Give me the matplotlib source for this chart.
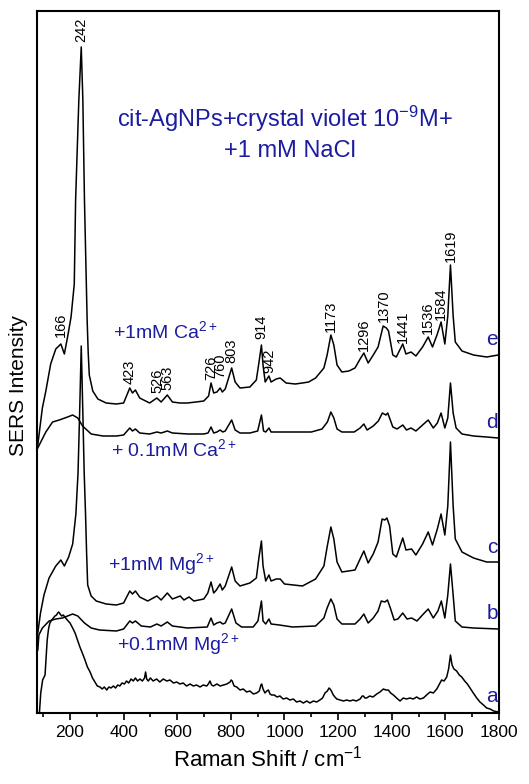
import matplotlib
matplotlib.use("Agg")
import matplotlib.pyplot as plt
from matplotlib.ticker import MultipleLocator, NullLocator

plt.rcParams['font.family'] = ['Liberation Sans', 'DejaVu Sans']
plt.rcParams['mathtext.fontset'] = 'custom'
plt.rcParams['mathtext.rm'] = 'Liberation Sans'
plt.rcParams['mathtext.it'] = 'Liberation Sans:italic'

# spectra (Raman shift in cm-1, stacked intensity in arb. units)
wn_e = [80, 90, 97, 110, 128, 147, 166, 179, 191, 204, 216, 221, 233, 242, 248, 254, 264, 268, 272,
        285, 304, 335, 373, 400, 423, 433, 444, 460, 497, 524, 540, 563, 582, 610, 638, 670, 699,
        717, 726, 736, 748, 760, 768, 779, 787, 803, 816, 834, 871, 895, 905, 914, 920, 928, 942,
        950, 969, 984, 1006, 1040, 1067, 1090, 1116, 1147, 1159, 1173, 1184, 1196, 1214, 1240,
        1263, 1282, 1296, 1312, 1331, 1349, 1368, 1380, 1388, 1404, 1417, 1441, 1453, 1472, 1490,
        1515, 1536, 1552, 1570, 1584, 1598, 1609, 1619, 1629, 1637, 1662, 1705, 1754, 1797]
int_e = [268, 290, 305, 322, 349, 364, 369, 359, 376, 396, 429, 513, 613, 666, 613, 513, 393, 360, 338,
         322, 314, 310, 309, 310, 325, 320, 323, 315, 310, 315, 311, 318, 311, 310, 310, 311, 312,
         317, 330, 320, 321, 325, 321, 324, 331, 345, 331, 325, 326, 333, 351, 368, 348, 331, 337,
         331, 334, 335, 330, 329, 330, 331, 335, 345, 358, 378, 368, 348, 341, 342,
         345, 354, 360, 350, 358, 366, 387, 385, 382, 358, 356, 369, 359, 361, 357,
         366, 376, 366, 379, 391, 369, 397, 448, 397, 371, 362, 358, 356, 358]

wn_d = [80, 91, 110, 135, 160, 191, 210, 229, 247, 279, 323, 373, 400, 423, 433, 444, 460, 497, 524,
        540, 563, 582, 640, 699, 715, 726, 736, 748, 760, 770, 779, 803, 816, 834, 871, 900, 914,
        922, 930, 942, 950, 984, 1030, 1100, 1140, 1160, 1173, 1184, 1196, 1214, 1260, 1282, 1296,
        1308, 1331, 1350, 1365, 1378, 1385, 1396, 1404, 1420, 1441, 1455, 1472, 1490, 1515, 1536,
        1555, 1570, 1584, 1598, 1609, 1619, 1629, 1640, 1662, 1705, 1754, 1797]
int_d = [265, 271, 281, 291, 293, 296, 298, 295, 287, 279, 277, 277, 278, 285, 282, 284, 280, 279, 281,
         280, 282, 280, 279, 279, 280, 286, 280, 281, 283, 281, 282, 293, 283, 280, 280, 282, 298,
         282, 281, 285, 281, 281, 281, 281, 284, 291, 301, 295, 284, 281, 281, 285, 289,
         283, 287, 292, 300, 298, 300, 292, 286, 284, 288, 283, 285, 282, 288, 293,
         285, 290, 300, 285, 295, 330, 300, 285, 279, 277, 276, 275]

wn_c = [80, 90, 103, 122, 147, 166, 179, 195, 210, 222, 230, 236, 242, 248, 253, 258, 262, 266, 279,
        298, 335, 373, 400, 423, 433, 444, 460, 490, 524, 540, 563, 582, 611, 625, 644, 662, 699,
        714, 726, 736, 746, 760, 768, 779, 803, 816, 834, 871, 895, 905, 914, 920, 930, 942, 950,
        969, 984, 1000, 1067, 1116, 1147, 1159, 1173, 1184, 1196, 1214, 1263, 1282, 1296, 1312,
        1331, 1349, 1364, 1374, 1382, 1392, 1404, 1417, 1441, 1453, 1474, 1490, 1515, 1536, 1552,
        1570, 1584, 1598, 1609, 1619, 1629, 1637, 1662, 1705, 1754, 1797]
int_c = [80, 100, 118, 135, 147, 153, 147, 156, 169, 199, 240, 300, 367, 300, 240, 199, 160, 128, 117,
         112, 109, 108, 110, 122, 119, 122, 116, 112, 117, 113, 120, 114, 117, 113, 116, 112, 114,
         120, 131, 120, 123, 129, 123, 127, 146, 132, 127, 130, 135, 156, 172, 147, 132, 138, 132,
         134, 134, 129, 127, 134, 147, 166, 186, 174, 151, 141, 143, 154, 162, 150,
         159, 171, 194, 193, 195, 187, 159, 156, 175, 163, 164, 158, 169, 181, 168,
         184, 199, 178, 207, 271, 207, 174, 161, 155, 151, 151]

wn_b = [80, 84, 97, 122, 147, 172, 191, 210, 229, 254, 279, 310, 373, 400, 423, 433, 444, 466, 500,
        524, 540, 563, 582, 638, 712, 726, 736, 748, 760, 770, 779, 803, 819, 840, 883, 901, 914,
        920, 930, 942, 950, 981, 1030, 1116, 1147, 1159, 1173, 1184, 1196, 1214, 1263, 1282, 1296,
        1312, 1331, 1349, 1361, 1374, 1384, 1396, 1409, 1423, 1441, 1457, 1474, 1494, 1518, 1536,
        1555, 1572, 1585, 1598, 1609, 1619, 1629, 1637, 1662, 1705, 1797]
int_b = [63, 78, 85, 92, 94, 95, 97, 99, 97, 90, 85, 83, 82, 84, 92, 90, 92, 87, 86,
         89, 87, 91, 87, 85, 86, 95, 88, 90, 91, 89, 90, 104, 90, 86, 86, 92, 112,
         92, 89, 94, 89, 88, 86, 87, 95, 105, 114, 108, 94, 89, 89, 94, 99,
         90, 95, 102, 112, 111, 113, 104, 93, 94, 100, 94, 95, 92, 99, 104,
         95, 102, 112, 95, 118, 149, 118, 92, 86, 85, 84]

wn_a = [86, 91, 98, 107, 115, 120, 125, 132, 138, 144, 150, 154, 158, 163, 169, 175, 181, 190, 200,
        210, 219, 228, 237, 246, 256, 265, 275, 284, 293, 302, 312, 320, 328, 337, 345, 353, 362,
        370, 378, 386, 394, 403, 411, 419, 428, 436, 444, 452, 461, 470, 478, 482, 486, 492, 500,
        510, 523, 535, 548, 561, 573, 586, 598, 610, 622, 635, 648, 660, 672, 685, 697, 710, 716,
        722, 728, 735, 748, 760, 772, 785, 797, 801, 805, 812, 822, 834, 846, 859, 871, 884, 896,
        906, 912, 915, 920, 927, 934, 940, 946, 952, 962, 972, 983, 995, 1008, 1020, 1033, 1045,
        1058, 1070, 1083, 1095, 1108, 1120, 1132, 1142, 1151, 1160, 1166, 1170, 1175, 1182, 1188,
        1195, 1208, 1220, 1232, 1244, 1256, 1268, 1282, 1290, 1294, 1300, 1306, 1318, 1330, 1344,
        1356, 1369, 1378, 1387, 1396, 1406, 1418, 1431, 1443, 1455, 1468, 1480, 1493, 1505, 1518,
        1530, 1543, 1555, 1568, 1578, 1586, 1595, 1605, 1612, 1619, 1625, 1632, 1642, 1652, 1661,
        1672, 1682, 1692, 1704, 1717, 1729, 1742, 1754, 1767, 1780, 1798]
int_a = [0, 20, 33, 38, 73, 84, 90, 93, 95, 97, 98, 100, 101, 99, 97, 98, 96, 93, 90,
         85, 80, 73, 66, 60, 53, 46, 41, 35, 31, 27, 26, 24, 26, 23, 26, 25, 27,
         25, 28, 27, 30, 29, 32, 30, 34, 32, 35, 32, 34, 32, 35, 41, 34, 32, 35,
         32, 34, 31, 34, 32, 33, 30, 31, 29, 30, 27, 29, 27, 28, 26, 28, 27, 29,
         32, 28, 27, 29, 27, 28, 29, 31, 33, 32, 27, 26, 23, 24, 21, 22, 19, 20,
         22, 28, 29, 24, 20, 22, 23, 19, 18, 18, 16, 17, 14, 15, 13, 14, 11,
         12, 10, 12, 10, 12, 11, 13, 15, 20, 22, 25, 24, 22, 18, 16,
         14, 13, 12, 13, 12, 13, 12, 14, 17, 17, 15, 15, 17, 16, 19,
         21, 24, 23, 23, 20, 18, 15, 12, 15, 14, 15, 14, 16, 14, 15,
         18, 21, 20, 24, 29, 33, 32, 36, 44, 58, 48, 44, 42, 38, 36,
         32, 29, 25, 20, 15, 11, 8, 5, 4, 2, 1]

peak_names = ['166', '242', '423', '526', '563', '726', '760', '803', '914', '942',
              '1173', '1296', '1370', '1441', '1536', '1584', '1619']
peak_label_y = [376, 671, 329, 320, 323, 333, 335, 350, 374, 340,
                381, 362, 391, 370, 379, 393, 451]

trace_letters = ['e', 'd', 'c', 'b', 'a']
letter_y = [368, 285, 160, 94, 11]

conditions = ['+1mM Ca$^{2+}$', '+ 0.1mM Ca$^{2+}$', '+1mM Mg$^{2+}$', '+0.1mM Mg$^{2+}$']
condition_x = [360, 353, 342, 375]
condition_y = [375, 257, 143, 63]

blue = '#1c1ca0'

fig = plt.figure(figsize=(5.29, 7.84), dpi=100)
ax = fig.add_axes([37 / 529, 71 / 784, 462 / 529, 702 / 784])

for wn, inten in [(wn_e, int_e), (wn_d, int_d), (wn_c, int_c), (wn_b, int_b), (wn_a, int_a)]:
    ax.plot(wn, inten, color='black', lw=1.1)

for name, yy in zip(peak_names, peak_label_y):
    ax.text(float(name), yy, name, rotation=90, ha='center', va='bottom', fontsize=10.5)

for letter, yy in zip(trace_letters, letter_y):
    ax.text(1796, yy, letter, ha='right', va='baseline', fontsize=15, color=blue)

for txt, xx, yy in zip(conditions, condition_x, condition_y):
    ax.text(xx, yy, txt, ha='left', va='baseline', fontsize=14, color=blue)

ax.text(1002, 586, 'cit-AgNPs+crystal violet 10$^{-9}$M+', ha='center', va='baseline',
        fontsize=17, color=blue)
ax.text(1022, 556, '+1 mM NaCl', ha='center', va='baseline', fontsize=17, color=blue)

ax.set_xlim(77, 1800)
ax.set_ylim(0, 702)
ax.xaxis.set_major_locator(MultipleLocator(200))
ax.xaxis.set_minor_locator(MultipleLocator(100))
ax.yaxis.set_major_locator(NullLocator())
ax.tick_params(axis='x', which='major', direction='out', length=5, width=1.2, labelsize=12.5)
ax.tick_params(axis='x', which='minor', direction='out', length=3, width=1.2)
for sp in ax.spines.values():
    sp.set_linewidth(1.5)

ax.set_xlabel('Raman Shift / cm$^{-1}$', fontsize=16, labelpad=4)
ax.set_ylabel('SERS Intensity', fontsize=15)
ax.yaxis.set_label_coords(-0.02, 0.467)

fig.savefig('out.png', dpi=100)
